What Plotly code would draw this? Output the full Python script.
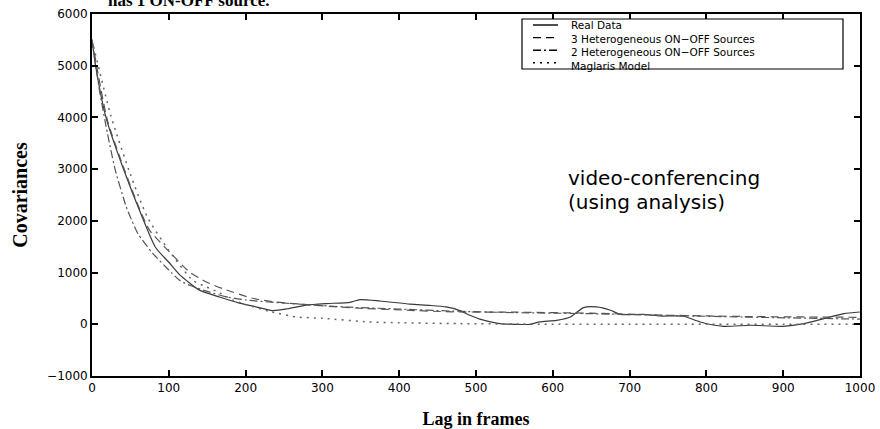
import plotly.graph_objects as go

# ---- data ----
lags_real = [0, 5, 18, 40, 66, 83, 100, 114, 140, 166, 192, 210, 235, 255, 279, 305, 336, 349, 375, 414,
             440, 461, 479, 492, 505, 531, 570, 583, 605, 623, 640, 657, 675, 688, 718, 740, 770, 792,
             822, 857, 900, 927, 953, 979, 1000]
vals_real = [5500, 4970, 4010, 3040, 2050, 1480, 1200, 960, 660, 528, 410, 350, 265, 300, 370, 400, 425, 477,
             450, 390, 365, 335, 265, 174, 100, 13, 0, 45, 77, 142, 322, 335, 271, 193, 190, 160, 155, 45,
             -39, -19, -39, 13, 110, 206, 238]

lags_3het = [0, 20, 40, 60, 75, 101, 127, 149, 170, 209, 240, 275, 336, 405, 470, 548, 650, 750, 850, 1000]
vals_3het = [5500, 3950, 3080, 2300, 1818, 1398, 1011, 818, 690, 503, 431, 385, 320, 275, 240, 235, 215, 175,
             150, 135]

lags_2het = [0, 10, 20, 30, 44, 52, 60, 79, 100, 114, 127, 149, 175, 200, 240, 275, 336, 400, 470, 550, 650,
             750, 850, 1000]
vals_2het = [5500, 4500, 3700, 3000, 2300, 2000, 1750, 1373, 1050, 851, 754, 640, 530, 470, 420, 385, 330, 295,
             255, 225, 205, 170, 140, 100]

lags_mag = [0, 25, 50, 72, 100, 131, 149, 166, 183, 201, 231, 266, 300, 361, 400, 479, 550, 600, 700, 800,
            900, 1000]
vals_mag = [5500, 4010, 2900, 2075, 1430, 851, 722, 610, 470, 380, 250, 142, 116, 45, 30, 13, 5, 0, 0, 0, 0, 0]

series_names = ["Real Data", "3 Heterogeneous ON\u2212OFF Sources",
                "2 Heterogeneous ON\u2212OFF Sources", "Maglaris Model"]
x_ticks = [0, 100, 200, 300, 400, 500, 600, 700, 800, 900, 1000]
y_ticks = [-1000, 0, 1000, 2000, 3000, 4000, 5000, 6000]
y_ticklabels = ["\u22121000", "0", "1000", "2000", "3000", "4000", "5000", "6000"]

styles = [
    dict(color="#3a3a3a", width=1.2, dash="solid"),
    dict(color="#555555", width=1.2, dash="8px,5px"),
    dict(color="#555555", width=1.2, dash="8px,3px,2px,3px"),
    dict(color="#666666", width=1.5, dash="2px,5px"),
]

fig = go.Figure()
for (lx, vy), name, st in zip([(lags_real, vals_real), (lags_3het, vals_3het),
                               (lags_2het, vals_2het), (lags_mag, vals_mag)], series_names, styles):
    fig.add_trace(go.Scatter(x=lx, y=vy, mode="lines", name=name, line=dict(shape="spline", smoothing=0.6, **st),
                             showlegend=False))

L, R, T, B = 92, 20, 14, 53
W, H = 880, 429
pw, ph = W - L - R, H - T - B


def px(xp):
    return (xp - L) / pw


def py(yp):
    return 1 - (yp - T) / ph


axis_common = dict(showgrid=False, zeroline=False, showline=True, linecolor="black", linewidth=1.8,
                   mirror="ticks", ticks="inside", ticklen=6, tickwidth=1.6, tickcolor="black",
                   automargin=False,
                   tickfont=dict(family="DejaVu Sans", size=12, color="black"))

fig.update_layout(
    width=W, height=H, margin=dict(l=L, r=R, t=T, b=B, autoexpand=False),
    paper_bgcolor="white", plot_bgcolor="white",
    xaxis=dict(range=[0, 1000], tickvals=x_ticks, title=dict(text="<b>Lag in frames</b>", standoff=20,
               font=dict(family="Liberation Serif", size=18, color="black")), **axis_common),
    yaxis=dict(range=[-1000, 6000], tickvals=y_ticks, ticktext=y_ticklabels,
               title=dict(text="<b>Covariances</b>", standoff=14,
                          font=dict(family="Liberation Serif", size=20, color="black")), **axis_common),
)

# legend box (manual, to match the compact MATLAB legend)
box = dict(x0=522, x1=843, y0=19, y1=69)
fig.add_shape(type="rect", xref="paper", yref="paper", x0=px(box["x0"]), x1=px(box["x1"]),
              y0=py(box["y1"]), y1=py(box["y0"]), line=dict(color="black", width=1.2), fillcolor="white")
fs = 10.5
lh = 12.6
rows = [25 + i * lh for i in range(4)]
for st, ry in zip(styles, rows):
    fig.add_shape(type="line", xref="paper", yref="paper", x0=px(533), x1=px(558), y0=py(ry), y1=py(ry),
                  line=dict(color="black", width=1.4, dash=st["dash"]))
fig.add_annotation(x=px(569), y=py((rows[0] + rows[-1]) / 2 + 1.5), xref="paper", yref="paper",
                   text="<br>".join(series_names), showarrow=False, align="left",
                   xanchor="left", yanchor="middle", font=dict(family="DejaVu Sans", size=fs, color="black"))

# in-plot label
fig.add_annotation(x=px(566), y=py(178), xref="paper", yref="paper", text="video-conferencing",
                   showarrow=False, xanchor="left", yanchor="middle",
                   font=dict(family="DejaVu Sans", size=20, color="black"))
fig.add_annotation(x=px(566), y=py(202), xref="paper", yref="paper", text="(using analysis)",
                   showarrow=False, xanchor="left", yanchor="middle",
                   font=dict(family="DejaVu Sans", size=20, color="black"))

# cropped caption at the very top
fig.add_annotation(x=px(106), y=py(12), xref="paper", yref="paper", text="<b>has 1 ON-OFF source.</b>",
                   showarrow=False, xanchor="left", yanchor="bottom",
                   font=dict(family="Liberation Serif", size=17, color="black"))

fig.write_html("out.html")
